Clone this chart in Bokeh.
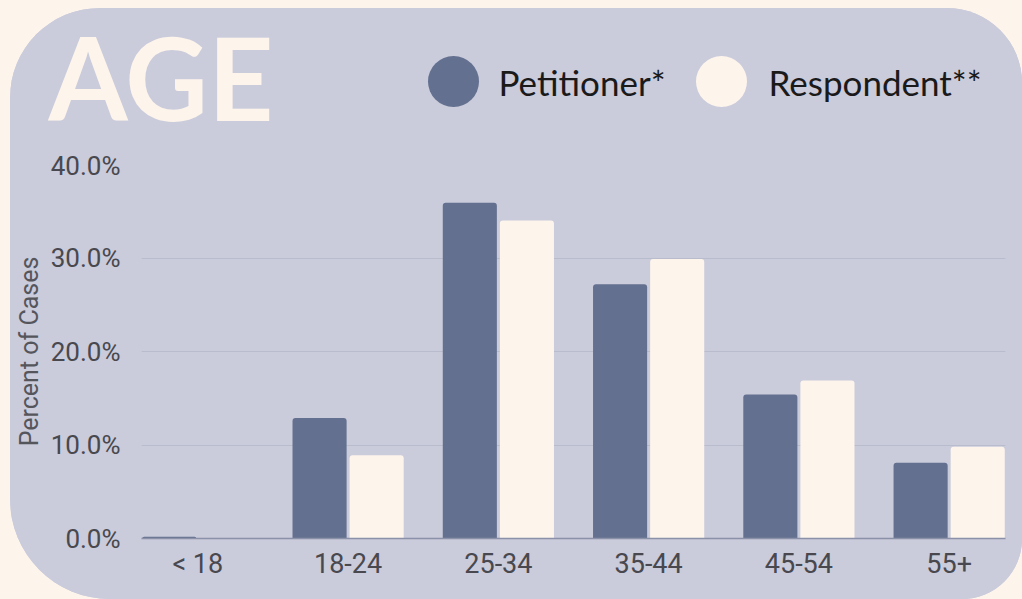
from bokeh.plotting import figure
from bokeh.layouts import column
from bokeh.models import (Range1d, FixedTicker, PrintfTickFormatter, ColumnDataSource)
from bokeh.core.properties import value
from bokeh.transform import dodge
from bokeh.embed import file_html
from bokeh.resources import INLINE

# ---- data -------------------------------------------------------------
categories = ["< 18", "18-24", "25-34", "35-44", "45-54", "55+"]
petitioner = [0.2, 12.9, 35.9, 27.2, 15.4, 8.1]
respondent = [0.0, 8.9, 34.0, 29.9, 16.9, 9.8]
y_ticks = [0, 10, 20, 30, 40]
series_names = ["Petitioner*", "Respondent**"]
title_text = "AGE"
y_label = "Percent of Cases"

PANEL = "#cacbdb"
DARK = "#63708f"
CREAM = "#fdf4ec"
OUTSIDE = "#fdf4ec"
series_colors = [DARK, CREAM]

W = 1012
HEAD_H = 142
MAIN_H = 449

# ---- header (title + legend), drawn in a pixel-like coordinate space ---
h = figure(width=W, height=HEAD_H, output_backend="svg", toolbar_location=None,
           x_range=Range1d(0, W), y_range=Range1d(0, HEAD_H),
           x_axis_location=None, y_axis_location=None,
           min_border=0, min_border_left=0, min_border_right=0,
           min_border_top=0, min_border_bottom=0, frame_align=False)
h.background_fill_color = PANEL
h.border_fill_color = PANEL
h.outline_line_color = None
h.xgrid.visible = False
h.ygrid.visible = False

# legend layout (screen-like positions inside the header)
legend_src = ColumnDataSource(dict(cx=[443, 711], tx=[488, 758], y=[69, 69],
                                   color=series_colors, label=series_names))
h.scatter(x="cx", y="y", source=legend_src, marker="circle", size=51,
          fill_color="color", line_color=None)
h.text(x="tx", y="y", text="label", source=legend_src,
       text_font=value("Lato"), text_font_size="35px", text_color="#1a1a1a",
       text_baseline="middle", text_align="left")

h.text(x=[38], y=[74], text=[title_text], text_font=value("Lato"),
       text_font_style="bold", text_font_size="114px", text_color=CREAM,
       text_baseline="alphabetic", text_align="left")

# ---- main chart -------------------------------------------------------
positions = list(range(len(categories)))
source = ColumnDataSource(dict(x=positions, cat=categories, pet=petitioner, res=respondent))

p = figure(width=W, height=MAIN_H, output_backend="svg", toolbar_location=None,
           x_range=Range1d(-0.375, len(categories) - 0.625), y_range=Range1d(0, 40),
           min_border_left=131, min_border_right=17, min_border_top=14, min_border_bottom=61,
           frame_align=False)
p.background_fill_color = PANEL
p.border_fill_color = PANEL
p.outline_line_color = None

p.vbar(x=dodge("x", -0.19), top="pet", width=0.36, source=source,
       fill_color=DARK, line_color=None, border_radius=(3, 3, 0, 0))
p.vbar(x=dodge("x", 0.19), top="res", width=0.36, source=source,
       fill_color=CREAM, line_color=None, border_radius=(3, 3, 0, 0))

p.xaxis.ticker = FixedTicker(ticks=positions)
p.xaxis.major_label_overrides = {i: c for i, c in zip(positions, categories)}
p.xaxis.axis_line_color = "#8b91a9"
p.xaxis.axis_line_width = 1.5
p.xaxis.major_tick_line_color = None
p.xaxis.minor_tick_line_color = None
p.xaxis.major_tick_out = 0
p.xaxis.major_tick_in = 0
p.xaxis.major_label_text_font = "Roboto"
p.xaxis.major_label_text_font_size = "27px"
p.xaxis.major_label_text_color = "#48484e"
p.xaxis.major_label_standoff = 9

p.yaxis.ticker = FixedTicker(ticks=y_ticks)
p.yaxis.formatter = PrintfTickFormatter(format="%.1f%%")
p.yaxis.axis_line_color = None
p.yaxis.major_tick_line_color = None
p.yaxis.minor_tick_line_color = None
p.yaxis.major_tick_out = 0
p.yaxis.major_tick_in = 0
p.yaxis.major_label_text_font = "Roboto"
p.yaxis.major_label_text_font_size = "26px"
p.yaxis.major_label_text_color = "#48484e"
p.yaxis.major_label_standoff = 21
p.yaxis.axis_label = y_label
p.yaxis.axis_label_text_font = "Roboto"
p.yaxis.axis_label_text_font_size = "25px"
p.yaxis.axis_label_text_font_style = "normal"
p.yaxis.axis_label_text_color = "#55565c"
p.yaxis.axis_label_standoff = 4

p.xgrid.visible = False
p.ygrid.grid_line_color = "#b9bccc"
p.ygrid.grid_line_width = 1

layout = column(h, p, spacing=0,
                styles={"border-radius": "90px 75px 60px 100px", "overflow": "hidden",
                        "background-color": PANEL, "margin-left": "10px", "margin-top": "8px"})

html = file_html(layout, INLINE)
html = html.replace("</head>",
                    "<style>html,body{background-color:%s;overflow:hidden;}</style></head>" % OUTSIDE, 1)
open("out.html", "w").write(html)
